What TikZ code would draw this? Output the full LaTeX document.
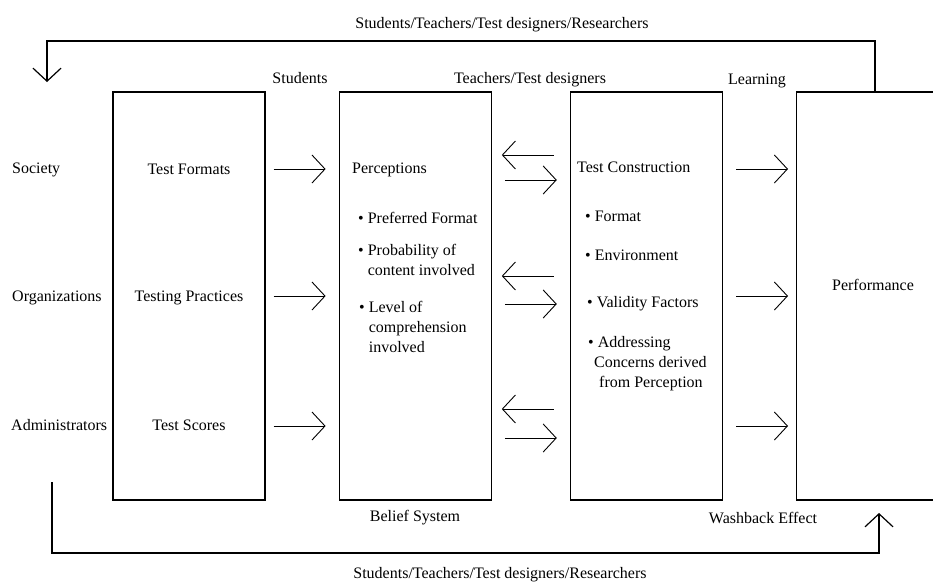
\documentclass[tikz,border=0pt]{standalone}
\usepackage{fontspec}
\setmainfont{Liberation Serif}
\usetikzlibrary{arrows.meta,calc,positioning}
\tikzstyle{stage} = [rectangle, minimum width=152pt, minimum height=408pt, draw=black, line width=1.2pt, inner sep=0pt]
\tikzstyle{txt} = [font=\fontsize{16}{20}\selectfont, inner sep=0pt, align=left]
\tikzstyle{arrow} = [line width=0.9pt, -{Straight Barb[length=13pt,width=28pt]}]
\tikzstyle{loop} = [line width=1.2pt, -{Straight Barb[length=13pt,width=28pt]}]

\begin{document}
\begin{tikzpicture}[x=1pt, y=-1pt]
\useasboundingbox (0,0) rectangle (933,581);

% boxes
\node (sources) [stage] at (189,296) {};
\node (belief) [stage, right=73pt of sources] {};
\node (construction) [stage, right=78pt of belief] {};
\node (performance) [stage, right=73pt of construction, minimum width=138pt] {};
%
\coordinate (row1) at (0,169);
\coordinate (row2) at (0,296);
\coordinate (row3) at (0,426);
\coordinate (back1) at (0,155);
\coordinate (fwd1) at (0,180);
\coordinate (back2) at (0,276);
\coordinate (fwd2) at (0,304);
\coordinate (back3) at (0,409);
\coordinate (fwd3) at (0,438);

% left column
\node (society) [txt, anchor=base west] at (12,173) {Society};
\node (organizations) [txt, anchor=base west] at (12,301) {Organizations};
\node (administrators) [txt, anchor=base west] at (11,430) {Administrators};
\node (formats) [txt, anchor=base] at (189,174) {Test Formats};
\node (practices) [txt, anchor=base] at (189,301) {Testing Practices};
\node (scores) [txt, anchor=base] at (189,430) {Test Scores};

% belief system
\node (perceptions) [txt, anchor=base west] at (352,173) {Perceptions};
\node (preferred) [txt, anchor=north west] at (358,212) {\textbullet\ Preferred Format};
\node (probability) [txt, anchor=north west] at (358,244) {\textbullet\ Probability of\\\phantom{\textbullet\ }content involved};
\node (level) [txt, anchor=north west] at (359,301) {\textbullet\ Level of\\\phantom{\textbullet\ }comprehension\\\phantom{\textbullet\ }involved};

% test construction
\node (testcons) [txt, anchor=base west] at (577,172) {Test Construction};
\node (format) [txt, anchor=north west] at (585,211) {\textbullet\ Format};
\node (environment) [txt, anchor=north west] at (585,250) {\textbullet\ Environment};
\node (validity) [txt, anchor=north west] at (587,296) {\textbullet\ Validity Factors};
\node (addressing) [txt, anchor=north west] at (588,336) {\textbullet\ Addressing\\\hspace*{6pt}Concerns derived\\\hspace*{11pt}from Perception};

\node (perf) [txt, anchor=base] at (873,290) {Performance};

% labels outside the boxes
\node (toplabel) [txt, anchor=base] at (502,28) {Students/Teachers/Test designers/Researchers};
\node (students) [txt, anchor=base] at (300,83) {Students};
\node (teachers) [txt, anchor=base] at (530,83) {Teachers/Test designers};
\node (learning) [txt, anchor=base] at (757,84) {Learning};
\node (beliefsys) [txt, anchor=base] at (415,521) {Belief System};
\node (washback) [txt, anchor=base] at (763,523) {Washback Effect};
\node (botlabel) [txt, anchor=base] at (500,578) {Students/Teachers/Test designers/Researchers};

% arrows between boxes
\foreach \r in {row1,row2,row3} {
  \draw [arrow, shorten <=8pt, shorten >=13pt] (\r -| sources.east) -- (\r -| belief.west);
  \draw [arrow, shorten <=13pt, shorten >=8pt] (\r -| construction.east) -- (\r -| performance.west);
}
\foreach \i in {1,2,3} {
  \draw [arrow, shorten <=16pt, shorten >=10pt] (back\i -| construction.west) -- (back\i -| belief.east);
  \draw [arrow, shorten <=13pt, shorten >=13pt] (fwd\i -| belief.east) -- (fwd\i -| construction.west);
}

% feedback loops
\coordinate (topright) at (875,41);
\coordinate (topleft) at (47,41);
\coordinate (topend) at (47,82);
\draw [loop] (topright |- performance.north) -- (topright) -- (topleft) -- (topend);
%
\coordinate (botstart) at (52,482);
\coordinate (botleft) at (52,553);
\coordinate (botright) at (879,553);
\coordinate (botend) at (879,513);
\draw [loop] (botstart) -- (botleft) -- (botright) -- (botend);

\end{tikzpicture}
\end{document}
